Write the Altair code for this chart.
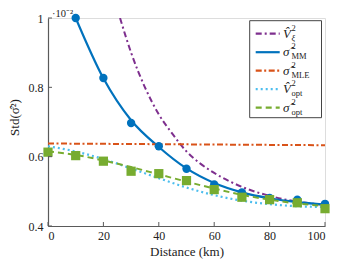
import altair as alt
import pandas as pd

# ---------------- data ----------------
dist = [0, 10, 20, 30, 40, 50, 60, 70, 80, 90, 100]

mm_x = [10, 20, 30, 40, 50, 60, 70, 80, 90, 100]
mm_pts = [1.0, 0.827, 0.697, 0.630, 0.565, 0.520, 0.497, 0.481, 0.476, 0.464]
mm_curve = [1.0, 0.826, 0.705, 0.628, 0.566, 0.524, 0.497, 0.480, 0.469, 0.462]

opt_pts = [0.613, 0.603, 0.587, 0.558, 0.551, 0.531, 0.505, 0.483, 0.476, 0.467, 0.450]
opt_curve = [0.615, 0.605, 0.589, 0.570, 0.549, 0.528, 0.508, 0.490, 0.476, 0.465, 0.458]

vopt_curve = [0.630, 0.615, 0.593, 0.566, 0.538, 0.511, 0.489, 0.473, 0.463, 0.457, 0.455]

mle_x = [0, 100]
mle_curve = [0.638, 0.633]

vxi_x = [26, 30, 35, 40, 45, 50, 55, 60, 70, 80, 90, 100]
vxi_curve = [1.0, 0.90, 0.80, 0.722, 0.665, 0.615, 0.58, 0.553, 0.513, 0.487, 0.47, 0.461]

x_ticks = [0, 20, 40, 60, 80, 100]
y_ticks = [0.4, 0.6, 0.8, 1.0]

# ---------------- styling ----------------
W, H = 277, 208
FONT = "Liberation Serif"
C_VXI = "#7E2F8E"
C_MM = "#0072BD"
C_MLE = "#D95319"
C_VOPT = "#4DBEEE"
C_OPT = "#77AC30"
AX = "#5a5a5a"

xs = alt.Scale(domain=[0, 100], nice=False, zero=False)
ys = alt.Scale(domain=[0.4, 1.0], nice=False, zero=False)

x_axis = alt.Axis(values=x_ticks, ticks=False, grid=False, labelPadding=4,
                  title="Distance (km)", titleY=25, titleBaseline="middle")
y_axis = alt.Axis(values=y_ticks, ticks=False, grid=False, labelPadding=5, format="~g",
                  title="Std(σ̂²)", titleX=-34, titleY=99, titleAngle=-90,
                  titleAlign="center", titleBaseline="middle")

X = lambda f: alt.X(f, scale=xs, axis=x_axis)
Y = lambda f: alt.Y(f, scale=ys, axis=y_axis)


def line_layer(xv, yv, color, dash, width=2.0):
    df = pd.DataFrame({"x": xv, "y": yv})
    kw = {}
    if dash:
        kw["strokeDash"] = dash
    m = alt.Chart(df).mark_line(color=color, strokeWidth=width, interpolate="monotone", clip=True, **kw)
    return m.encode(x=X("x:Q"), y=Y("y:Q"))


layers = []
layers.append(line_layer(vxi_x, vxi_curve, C_VXI, [6, 3, 2, 3]))
layers.append(line_layer(mm_x, mm_curve, C_MM, None, 2.2))
layers.append(line_layer(mle_x, mle_curve, C_MLE, [6, 2.5, 2, 2.5]))
layers.append(line_layer(dist, vopt_curve, C_VOPT, [2, 3], 2.2))
layers.append(line_layer(dist, opt_curve, C_OPT, [6, 4]))

layers.append(alt.Chart(pd.DataFrame({"x": mm_x, "y": mm_pts})).mark_point(
    shape="circle", filled=True, size=70, color=C_MM, opacity=1).encode(x=X("x:Q"), y=Y("y:Q")))
layers.append(alt.Chart(pd.DataFrame({"x": dist, "y": opt_pts})).mark_point(
    shape="square", filled=True, size=85, color=C_OPT, opacity=1).encode(x=X("x:Q"), y=Y("y:Q")))

# inside tick marks
layers.append(alt.Chart(pd.DataFrame({"x": x_ticks})).mark_rule(color=AX, strokeWidth=1).encode(
    x=X("x:Q"), y=alt.value(H), y2=alt.value(H - 4)))
layers.append(alt.Chart(pd.DataFrame({"y": y_ticks})).mark_rule(color=AX, strokeWidth=1).encode(
    y=Y("y:Q"), x=alt.value(0), x2=alt.value(4)))

dummy = pd.DataFrame({"k": [0]})


def txt(x, y, s, size=12, italic=False, align="left", baseline="alphabetic"):
    kw = {"fontStyle": "italic"} if italic else {}
    return alt.Chart(dummy).mark_text(text=s, font=FONT, fontSize=size, color="#222",
                                      align=align, baseline=baseline, **kw).encode(
        x=alt.value(x), y=alt.value(y))


# exponent label
layers.append(txt(4, -4.5, "·10⁻²", 10.5, baseline="middle"))

# legend box
lx0, lx1, ly0, ly1 = 201.7, 273.5, 2.7, 99.7
layers.append(alt.Chart(dummy).mark_rect(fill="white", stroke="#444", strokeWidth=1).encode(
    x=alt.value(lx0), x2=alt.value(lx1), y=alt.value(ly0), y2=alt.value(ly1)))

entries = [
    ("V̂", "ξ", True, C_VXI, [6, 3, 2, 3]),
    ("σ̂", "MM", False, C_MM, None),
    ("σ̂", "MLE", False, C_MLE, [6, 2.5, 2, 2.5]),
    ("V̂", "opt", False, C_VOPT, [2, 3]),
    ("σ̂", "opt", False, C_OPT, [6, 4]),
]
row_y = [15.7, 34.2, 52.7, 71.2, 89.7]
for (base, sub, sub_it, col, dash), yy in zip(entries, row_y):
    kw = {"strokeDash": dash} if dash else {}
    layers.append(alt.Chart(dummy).mark_rule(color=col, strokeWidth=2.2, **kw).encode(
        x=alt.value(207.7), x2=alt.value(231.7), y=alt.value(yy)))
    layers.append(txt(235, yy + 4, base, 13, italic=True))
    layers.append(txt(243.5, yy - 3, "2", 8.5))
    layers.append(txt(243.5, yy + 7, sub, 8.5, italic=sub_it))

chart = alt.layer(*layers).properties(
    width=W, height=H,
    autosize=alt.AutoSizeParams(type="none"),
    padding={"left": 40, "top": 10, "right": 7, "bottom": 40},
).configure_view(stroke=None).configure(background="white").configure_axis(
    labelFont=FONT, labelFontSize=12, labelColor="#222",
    titleFont=FONT, titleFontSize=13, titleFontWeight="normal", titleColor="#222",
    domainColor=AX, domainWidth=1.2,
)

chart.save("out.html", embed_options={"renderer": "svg", "actions": False})
